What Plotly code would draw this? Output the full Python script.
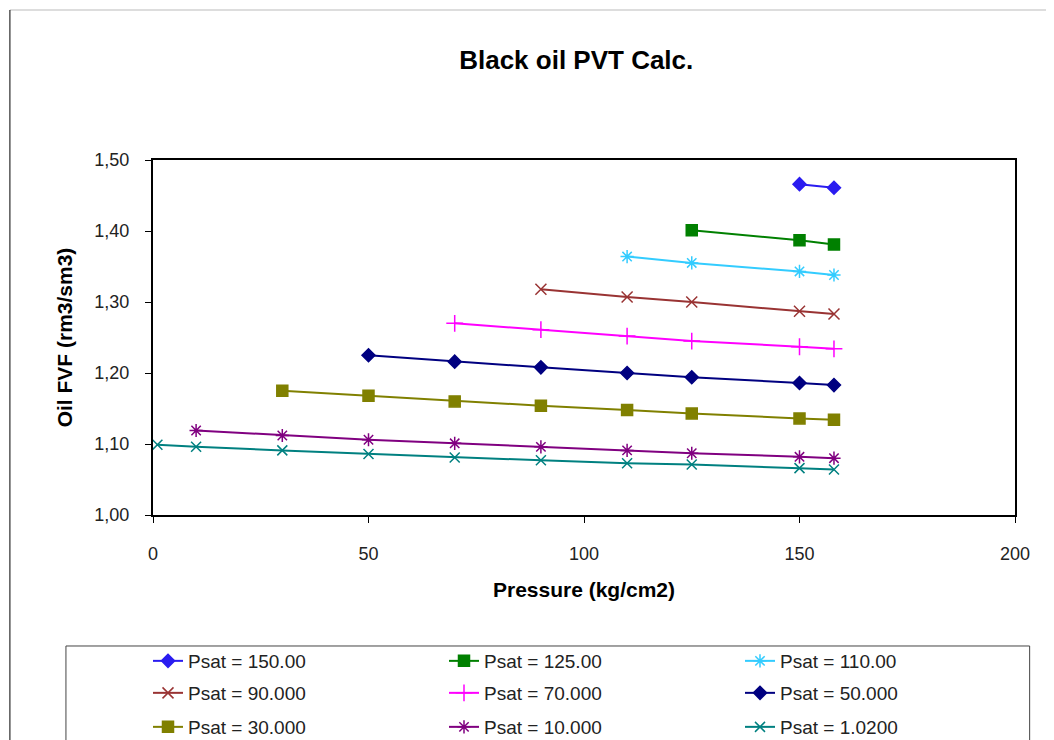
import plotly.graph_objects as go

# Black oil PVT: oil formation volume factor vs pressure, one series per Psat
names = ['Psat = 150.00', 'Psat = 125.00', 'Psat = 110.00',
         'Psat = 90.000', 'Psat = 70.000', 'Psat = 50.000',
         'Psat = 30.000', 'Psat = 10.000', 'Psat = 1.0200']

p_150 = [150, 158]
bo_150 = [1.466, 1.461]
p_125 = [125, 150, 158]
bo_125 = [1.401, 1.387, 1.381]
p_110 = [110, 125, 150, 158]
bo_110 = [1.364, 1.355, 1.343, 1.338]
p_90 = [90, 110, 125, 150, 158]
bo_90 = [1.318, 1.307, 1.300, 1.287, 1.283]
p_70 = [70, 90, 110, 125, 150, 158]
bo_70 = [1.270, 1.261, 1.252, 1.245, 1.237, 1.234]
p_50 = [50, 70, 90, 110, 125, 150, 158]
bo_50 = [1.225, 1.216, 1.208, 1.200, 1.194, 1.186, 1.183]
p_30 = [30, 50, 70, 90, 110, 125, 150, 158]
bo_30 = [1.175, 1.168, 1.160, 1.154, 1.148, 1.143, 1.136, 1.134]
p_10 = [10, 30, 50, 70, 90, 110, 125, 150, 158]
bo_10 = [1.119, 1.112, 1.106, 1.101, 1.096, 1.091, 1.087, 1.082, 1.080]
p_1 = [1.02, 10, 30, 50, 70, 90, 110, 125, 150, 158]
bo_1 = [1.099, 1.096, 1.091, 1.086, 1.081, 1.077, 1.073, 1.071, 1.066, 1.064]

series = [(p_150, bo_150), (p_125, bo_125), (p_110, bo_110),
          (p_90, bo_90), (p_70, bo_70), (p_50, bo_50),
          (p_30, bo_30), (p_10, bo_10), (p_1, bo_1)]

colors = ['#2a1cf0', '#008000', '#33ccff', '#993333', '#ff00ff',
          '#000080', '#808000', '#800080', '#008080']
symbols = ['diamond', 'square', 'asterisk-open', 'x-thin-open', 'cross-thin-open',
           'diamond', 'square', 'asterisk-open', 'x-thin-open']
sizes = [10, 11, 11, 11, 12, 10, 11, 11, 10]
# three legend rows, three entries each (like the Excel legend)
legend_ids = ['legend', 'legend', 'legend', 'legend2', 'legend2', 'legend2',
              'legend3', 'legend3', 'legend3']

fig = go.Figure()
for (x, y), name, c, s, sz, lg in zip(series, names, colors, symbols, sizes, legend_ids):
    fig.add_trace(go.Scatter(
        x=x, y=y, name=name, mode='lines+markers', legend=lg,
        line=dict(color=c, width=2),
        marker=dict(symbol=s, size=sz, color=c, line=dict(color=c, width=1.5)),
    ))

# chart area border (Excel-like frame) and legend box
fig.add_shape(type='line', xref='paper', yref='paper',
              x0=-0.166, x1=1.06, y0=1.4225, y1=1.4225,
              line=dict(color='#dddddd', width=2))
fig.add_shape(type='line', xref='paper', yref='paper',
              x0=-0.166, x1=-0.166, y0=1.4225, y1=-0.75,
              line=dict(color='black', width=1))
fig.add_shape(type='rect', xref='paper', yref='paper',
              x0=-0.101, x1=1.017, y0=-0.369, y1=-0.75,
              line=dict(color='#444444', width=1))

legend_style = dict(
    orientation='h', x=-0.0058, xanchor='left', yanchor='middle',
    entrywidth=251, entrywidthmode='pixels',
    font=dict(size=19, color='#222222'),
    bgcolor='rgba(0,0,0,0)',
)

# figure is a bit taller than the window so the bottom legend row is cut like the reference
fig.update_layout(
    width=1046, height=760,
    margin=dict(l=145, r=39, t=152, b=253),
    paper_bgcolor='white', plot_bgcolor='white',
    separators=',.',
    font=dict(family='Arial', size=18, color='#222222'),
    title=dict(text='<b>Black oil PVT Calc.</b>', x=0.491, xref='paper',
               y=1 - 52 / 760, yanchor='middle', font=dict(size=26, color='black')),
    xaxis=dict(
        title=dict(text='<b>Pressure (kg/cm2)</b>', standoff=20,
                   font=dict(size=21, color='black')),
        range=[0, 200], tickvals=[0, 50, 100, 150, 200],
        showgrid=False, zeroline=False,
        showline=True, linecolor='black', linewidth=2, mirror=True,
        ticks='outside', ticklen=6, tickcolor='black', tickwidth=1,
        ticklabelstandoff=15,
    ),
    yaxis=dict(
        title=dict(text='<b>Oil FVF (rm3/sm3)</b>', standoff=16,
                   font=dict(size=21, color='black')),
        range=[1.0, 1.5], tickvals=[1.0, 1.1, 1.2, 1.3, 1.4, 1.5],
        tickformat='.2f',
        showgrid=False, zeroline=False,
        showline=True, linecolor='black', linewidth=2, mirror=True,
        ticks='outside', ticklen=6, tickcolor='black', tickwidth=1,
        ticklabelstandoff=12,
    ),
    legend=dict(legend_style, y=-0.4113),
    legend2=dict(legend_style, y=-0.5014),
    legend3=dict(legend_style, y=-0.5972),
    showlegend=True,
)

fig.write_html("out.html")
